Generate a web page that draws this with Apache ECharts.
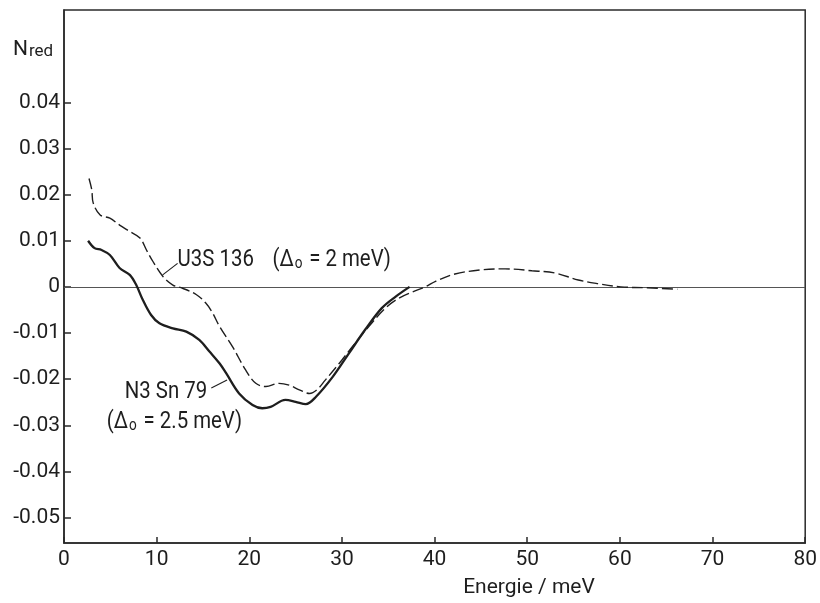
<!DOCTYPE html>
<html>
<head>
<meta charset="utf-8">
<script src="https://cdn.jsdelivr.net/npm/echarts@6/dist/echarts.min.js"></script>
<style>html,body{margin:0;padding:0;background:#fff}#c{width:820px;height:603px}</style>
</head>
<body>
<div id="c"></div>
<script>
// N3 Sn 79 (solid)
const energyN3 = [2.6, 3.3, 4.05, 4.95, 6.0, 7.1, 7.8, 8.5, 9.4, 10.3, 11.75, 13.2, 14.6, 15.7, 16.8, 17.5, 18.9, 20.35, 21.4, 22.3, 23.9, 25.0, 26.1, 27.2, 29.0, 30.75, 32.5, 34.3, 35.8, 37.3];
const valuesN3 = [0.0100, 0.0084, 0.0080, 0.0069, 0.0041, 0.0026, 0.0004, -0.0028, -0.0061, -0.0079, -0.0090, -0.0097, -0.0115, -0.0140, -0.0166, -0.0187, -0.0231, -0.0256, -0.0263, -0.0260, -0.0245, -0.0249, -0.0254, -0.0238, -0.0195, -0.0144, -0.0093, -0.0046, -0.0021, 0.0];
// U3S 136 (dashed)
const energyU3S = [2.7, 3.0, 3.15, 3.9, 4.95, 6.0, 7.1, 8.2, 8.9, 9.6, 10.7, 11.75, 12.8, 14.3, 15.3, 16.0, 16.8, 18.2, 19.6, 20.7, 21.8, 23.2, 24.3, 25.4, 26.5, 27.3, 28.2, 29.7, 31.1, 32.9, 34.7, 36.1, 37.6, 39.0, 40.1, 42.2, 45.1, 47.6, 50.5, 53.0, 55.5, 57.6, 60.1, 63.0, 66.2];
const valuesU3S = [0.0235, 0.0210, 0.0182, 0.0156, 0.0149, 0.0134, 0.0120, 0.0106, 0.0080, 0.0055, 0.0022, 0.0004, -0.0003, -0.0017, -0.0035, -0.0055, -0.0086, -0.0130, -0.0180, -0.0209, -0.0216, -0.0209, -0.0213, -0.0223, -0.0231, -0.0223, -0.0202, -0.0166, -0.0130, -0.0086, -0.0046, -0.0025, -0.0011, 0.0, 0.0012, 0.0028, 0.0037, 0.0039, 0.0035, 0.0030, 0.0015, 0.0007, 0.0, -0.0002, -0.0005];
const xTicks = [0, 10, 20, 30, 40, 50, 60, 70, 80];
const yTicks = [-0.05, -0.04, -0.03, -0.02, -0.01, 0, 0.01, 0.02, 0.03, 0.04];

const FONT = 'Roboto';
const INK = '#1e1e1e';
const zip = (xs, ys) => xs.map((x, i) => [x, ys[i]]);

const chart = echarts.init(document.getElementById('c'), null, {renderer: 'canvas'});
chart.setOption({
  animation: false,
  backgroundColor: '#fff',
  grid: {left: 64, right: 11, top: 10, bottom: 60, show: true, borderColor: '#2a2a2a', borderWidth: 1.5, backgroundColor: 'transparent'},
  xAxis: {
    type: 'value', min: 0, max: 80, interval: 10,
    axisLine: {onZero: false, lineStyle: {color: '#2a2a2a', width: 1.5}},
    axisTick: {inside: true, length: 6, lineStyle: {color: '#2a2a2a', width: 1.5}, customValues: xTicks},
    axisLabel: {customValues: xTicks, color: INK, fontFamily: FONT, fontSize: 21, margin: 6},
    splitLine: {show: false}
  },
  yAxis: {
    type: 'value', min: -0.0555, max: 0.06,
    axisLine: {lineStyle: {color: '#2a2a2a', width: 1.5}},
    axisTick: {inside: true, length: 7, lineStyle: {color: '#2a2a2a', width: 1.5}, customValues: yTicks},
    axisLabel: {customValues: yTicks, color: INK, fontFamily: FONT, fontSize: 21, margin: 4,
      formatter: v => Math.abs(v) < 1e-9 ? '0' : (v < 0 ? '-' + Math.abs(v).toFixed(2) : v.toFixed(2))},
    splitLine: {show: false}
  },
  series: [
    {
      name: 'U3S 136', type: 'line', data: zip(energyU3S, valuesU3S), smooth: 0.35, showSymbol: false,
      lineStyle: {color: INK, width: 1.4, type: [11, 4]}, z: 3,
      markLine: {silent: true, symbol: ['none', 'none'], label: {show: false},
        lineStyle: {color: '#555', width: 1, type: 'solid'}, data: [{yAxis: 0}], z: 1}
    },
    {
      name: 'N3 Sn 79', type: 'line', data: zip(energyN3, valuesN3), smooth: 0.35, showSymbol: false,
      lineStyle: {color: INK, width: 2.3, type: 'solid'}, z: 4
    }
  ]
});

const px = (e, n) => chart.convertToPixel({gridIndex: 0}, [e, n]);
const richStyle = (text, x, y) => ({
  type: 'text', x: x, y: y, scaleX: 0.85,
  style: {
    text: text, fill: INK, align: 'left', verticalAlign: 'middle',
    rich: {
      a: {fontFamily: FONT, fontSize: 24, lineHeight: 28, verticalAlign: 'bottom', fill: INK},
      s: {fontFamily: FONT, fontSize: 16, lineHeight: 16, verticalAlign: 'bottom', fill: INK, padding: [0, 2, 0, 1]}
    }
  }
});

const pU = px(12.26, 0.0063), pUd = px(22.5, 0.0063);
const lU1 = px(10.65, 0.0026), lU2 = px(12.26, 0.0051);
const pN = px(6.56, -0.0223), pNd = px(4.62, -0.0289);
const lN1 = px(15.9, -0.0219), lN2 = px(17.6, -0.0202);

chart.setOption({
  graphic: [
    {type: 'text', x: 13, y: 48, style: {text: '{n|N}{r|red}', fill: INK,
      rich: {n: {fontFamily: FONT, fontSize: 21, lineHeight: 24, verticalAlign: 'bottom'},
             r: {fontFamily: FONT, fontSize: 17, lineHeight: 18, verticalAlign: 'bottom', padding: [0, 0, 0, 1]}}, verticalAlign: 'middle'}},
    {type: 'text', x: 529, y: 588, style: {text: 'Energie / meV', fill: INK, fontFamily: FONT, fontSize: 21, align: 'center', verticalAlign: 'middle'}},
    richStyle('{a|U3S 136}', pU[0], pU[1]),
    richStyle('{a|(Δ}{s|o}{a| = 2 meV)}', pUd[0], pUd[1]),
    richStyle('{a|N3 Sn 79}', pN[0], pN[1]),
    richStyle('{a|(Δ}{s|o}{a| = 2.5 meV)}', pNd[0], pNd[1]),
    {type: 'line', shape: {x1: lU1[0], y1: lU1[1], x2: lU2[0], y2: lU2[1]}, style: {stroke: INK, lineWidth: 1.1}},
    {type: 'line', shape: {x1: lN1[0], y1: lN1[1], x2: lN2[0], y2: lN2[1]}, style: {stroke: INK, lineWidth: 1.1}}
  ]
});
</script>
</body>
</html>
